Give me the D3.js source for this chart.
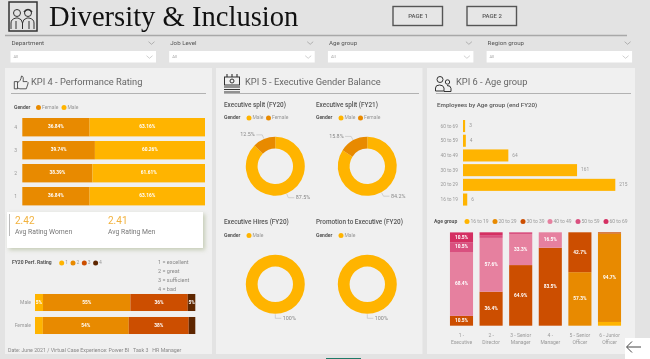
<!DOCTYPE html>
<html>
<head>
<meta charset="utf-8">
<script src="https://cdn.jsdelivr.net/npm/d3@7"></script>
<style>
  html, body { margin: 0; padding: 0; background: #e3e3e3; overflow: hidden; }
  svg { display: block; filter: blur(0.35px); }
  text { font-family: Roboto, "Noto Sans", sans-serif; white-space: pre; }
  .domain { display: none; }
</style>
</head>
<body>
<div id="chart"></div>
<script>
// ---- data ----
const filterNames = ['Department', 'Job Level', 'Age group', 'Region group'];
const pageNames = ['PAGE 1', 'PAGE 2'];

const ratingLevels = ['4', '3', '2', '1'];
const ratingFemale = [36.84, 39.74, 38.39, 36.84];
const ratingMale = [63.16, 60.26, 61.61, 63.16];

const avgValues = ['2.42', '2.41'];
const avgLabels = ['Avg Rating Women', 'Avg Rating Men'];

const perfKeys = ['1', '2', '3', '4'];
const perfGenders = ['Male', 'Female'];
const perfMale = [5, 54.5, 35.8, 4.7];
const perfFemale = [4.9, 53.6, 37.4, 4.1];
const perfMaleLabels = ['5%', '55%', '36%', '5%'];
const perfFemaleLabels = ['', '54%', '38%', ''];
const perfNotes = ['1 = excellent', '2 = great', '3 = sufficient', '4 = bad'];

const donutTitles = ['Executive split (FY20)', 'Executive split (FY21)', 'Executive Hires (FY20)', 'Promotion to Executive (FY20)'];
const donutMale = [87.5, 84.2, 100, 100];
const donutFemale = [12.5, 15.8, 0, 0];

const ageGroups = ['60 to 69', '50 to 59', '40 to 49', '30 to 39', '20 to 29', '16 to 19'];
const ageCounts = [3, 4, 64, 161, 215, 6];

const ageKeys = ['16 to 19', '20 to 29', '30 to 39', '40 to 49', '50 to 59', '60 to 69'];
const levels = ['1 - |Executive', '2 - |Director', '3 - Senior|Manager', '4 - |Manager', '5 - Senior|Officer', '6 - Junior|Officer'];
const age1619 = [0, 0, 0, 0, 0, 4];
const age2029 = [0, 0, 0, 0, 57.3, 94.7];
const age3039 = [10.5, 36.4, 64.9, 83.5, 42.7, 1.3];
const age4049 = [68.4, 57.6, 33.3, 16.5, 0, 0];
const age5059 = [10.5, 3, 1.8, 0, 0, 0];
const age6069 = [10.5, 3, 0, 0, 0, 0];

// ---- colours ----
const yellow = '#ffb400', orange = '#e88a00', rust = '#cc4e00', brown = '#5e2600';
const pink = '#e6809f', rose = '#d9507f', crimson = '#d42f62';
const inkLight = '#999';

const svg = d3.select('#chart').append('svg').attr('width', 650).attr('height', 359);

svg.append('defs').append('filter').attr('id', 'cardShadow')
  .attr('x', '-10%').attr('y', '-20%').attr('width', '125%').attr('height', '150%')
  .append('feDropShadow')
  .attr('dx', 2).attr('dy', 2).attr('stdDeviation', 2)
  .attr('flood-color', '#8f9f6f').attr('flood-opacity', 0.45);

svg.append('rect').attr('width', 650).attr('height', 359).attr('fill', '#e3e3e3');

function label(g, x, y, txt, size, fill, opts) {
  opts = opts || {};
  return g.append('text').attr('x', x).attr('y', y).text(txt)
    .attr('font-size', size).attr('fill', fill)
    .attr('font-weight', opts.weight || 400)
    .attr('text-anchor', opts.anchor || 'start')
    .attr('dominant-baseline', 'middle');
}

// small "Gender o Male o Female" style legends
function legend(g, x, y, title, entries) {
  label(g, x, y, title, 5, '#555', {weight: 700});
  entries.forEach(e => {
    g.append('circle').attr('cx', e.x).attr('cy', y).attr('r', 2.5).attr('fill', e.color);
    label(g, e.x + 3.5, y, e.name, 5, inkLight);
  });
}

// ---- header ----
const header = svg.append('g');
header.append('text').attr('x', 49).attr('y', 25.5).text('Diversity & Inclusion')
  .style('font-family', '"Liberation Serif", serif').attr('font-size', 28.6).attr('fill', '#111');
header.append('line').attr('x1', 5).attr('x2', 627).attr('y1', 35.5).attr('y2', 35.5)
  .attr('stroke', '#a8a8a8').attr('stroke-width', 1.5);

// people icon
const logo = header.append('g').attr('transform', 'translate(8,1)')
  .attr('fill', 'none').attr('stroke', '#333').attr('stroke-width', 1);
logo.append('rect').attr('x', 1).attr('y', 1).attr('width', 28).attr('height', 29).attr('stroke-width', 1.5);
logo.append('circle').attr('cx', 9).attr('cy', 12).attr('r', 3.5);
logo.append('circle').attr('cx', 20).attr('cy', 12).attr('r', 3.5);
logo.append('path').attr('d', 'M3 28v-6q0-4 5-5h2q4 1 4.5 5v6M14.5 22q.5-4 4.5-5h2q5 1 5 5v6M8 20v8M21 20v8');
logo.append('path').attr('d', 'M16 11q4-5 8 0').attr('stroke-width', 1.5);

pageNames.forEach((p, i) => {
  const x = 393 + i * 74;
  header.append('rect').attr('x', x).attr('y', 6.5).attr('width', 49.5).attr('height', 19)
    .attr('fill', '#e6e6e6').attr('stroke', '#555').attr('stroke-width', 1.4);
  label(header, x + 25, 16.5, p, 6, '#555', {anchor: 'middle', weight: 500});
});

// slicers
function chevron(g, x, y, col) {
  g.append('path').attr('d', `M${x - 3} ${y - 1.3}L${x} ${y + 1.3}L${x + 3} ${y - 1.3}`)
    .attr('fill', 'none').attr('stroke', col).attr('stroke-width', 0.7);
}
filterNames.forEach((f, i) => {
  const x = 10.5 + i * 158.7;
  label(header, x + 1, 43.5, f, 6.2, '#555');
  chevron(header, x + 141, 43, '#999');
  header.append('rect').attr('x', x).attr('y', 51).attr('width', 145.5).attr('height', 11.5).attr('fill', '#fff');
  label(header, x + 3, 57, 'All', 4.2, '#aaa');
  chevron(header, x + 139, 57, '#bbb');
});

// ---- panels ----
const panelX = [[5, 212], [216, 422.5], [427, 635]];
const titleRules = [[11, 206], [224, 419], [436, 631]];
const panelTitles = ['KPI 4 - Performance Rating', 'KPI 5 - Executive Gender Balance', 'KPI 6 - Age group'];
const titleX = [31, 245, 456];
panelX.forEach((p, i) => {
  svg.append('rect').attr('x', p[0]).attr('y', 68).attr('width', p[1] - p[0]).attr('height', 286).attr('fill', '#f0f0f0');
  svg.append('line').attr('x1', titleRules[i][0]).attr('x2', titleRules[i][1]).attr('y1', 93.5).attr('y2', 93.5)
    .attr('stroke', '#aaa').attr('stroke-width', 0.9);
  label(svg, titleX[i], 82.5, panelTitles[i], 9.3, '#666');
});

// panel icons
const iconStyle = g => g.attr('fill', 'none').attr('stroke', '#333').attr('stroke-width', 1);
svg.append('g').attr('transform', 'translate(13.5,76) scale(0.8)').call(iconStyle)
  .append('path').attr('d', 'M1 7h4v9H1zM5 8q4-1 5-8q3 0 2 7h5q2 1 1 3l-2 6H8l-3-1');
const execIcon = svg.append('g').attr('transform', 'translate(224,73)').call(iconStyle);
execIcon.append('rect').attr('x', 0.5).attr('y', 4).attr('width', 15).attr('height', 8);
execIcon.append('circle').attr('cx', 8).attr('cy', 8).attr('r', 2);
execIcon.append('path').attr('d', 'M0 14h16M0 16.5h16M0 19h16M3 1v3M8 1v3M13 1v3').attr('stroke-width', 1.1);
const ageIcon = svg.append('g').attr('transform', 'translate(435,76)').call(iconStyle);
ageIcon.append('circle').attr('cx', 5).attr('cy', 3.5).attr('r', 3);
ageIcon.append('circle').attr('cx', 12.5).attr('cy', 6).attr('r', 2.2);
ageIcon.append('path').attr('d', 'M0.5 15v-3q0-3 4-3t4.5 3v3zM9 15.5h7v-3q0-3-4-3');

// ---- KPI 4: gender share per rating ----
const kpi4 = svg.append('g');
legend(kpi4, 14, 107.5, 'Gender', [{x: 38.5, name: 'Female', color: orange}, {x: 64, name: 'Male', color: yellow}]);

const ratingX = d3.scaleLinear().domain([0, 100]).range([22.3, 205]);
const ratingY = d3.scaleBand().domain(ratingLevels).range([115.7, 207.7]).paddingInner(0.2).paddingOuter(0.1);

kpi4.append('g').attr('transform', 'translate(22,0)')
  .call(d3.axisLeft(ratingY).tickSize(0).tickPadding(5))
  .call(g => g.selectAll('text').attr('font-size', 5).attr('fill', inkLight).style('font-family', 'Roboto'));

ratingLevels.forEach((r, i) => {
  const y = ratingY(r), h = ratingY.bandwidth();
  kpi4.append('rect').attr('x', ratingX(0)).attr('y', y).attr('height', h)
    .attr('width', ratingX(ratingFemale[i]) - ratingX(0)).attr('fill', orange);
  kpi4.append('rect').attr('x', ratingX(ratingFemale[i])).attr('y', y).attr('height', h)
    .attr('width', ratingX(100) - ratingX(ratingFemale[i])).attr('fill', yellow);
  label(kpi4, (ratingX(0) + ratingX(ratingFemale[i])) / 2, y + h / 2, ratingFemale[i].toFixed(2) + '%', 4.8, '#fff', {anchor: 'middle', weight: 700});
  label(kpi4, (ratingX(ratingFemale[i]) + ratingX(100)) / 2, y + h / 2, ratingMale[i].toFixed(2) + '%', 4.8, '#fff', {anchor: 'middle', weight: 700});
});

// average rating card
const card = svg.append('g');
card.append('rect').attr('x', 7).attr('y', 212).attr('width', 196).attr('height', 36)
  .attr('fill', '#fff').attr('filter', 'url(#cardShadow)');
card.append('line').attr('x1', 9.5).attr('x2', 9.5).attr('y1', 214).attr('y2', 236).attr('stroke', '#aaa').attr('stroke-width', 0.8);
avgValues.forEach((v, i) => {
  const x = 15 + i * 93;
  label(card, x, 221.5, v, 10, '#f2b23e');
  label(card, x, 232.5, avgLabels[i], 6.8, '#777');
});

// FY20 perf rating split
const perf = svg.append('g');
const perfColors = d3.scaleOrdinal().domain(perfKeys).range([yellow, orange, rust, brown]);
legend(perf, 12, 263, 'FY20 Perf. Rating', perfKeys.map((k, i) => ({x: 61.7 + i * 11.3, name: k, color: perfColors(k)})));
perfNotes.forEach((n, i) => label(perf, 158, 262.5 + i * 9.1, n, 5.5, '#888'));

const perfRows = perfGenders.map((g, i) => {
  const src = i === 0 ? perfMale : perfFemale;
  const row = {gender: g};
  perfKeys.forEach((k, j) => { row[k] = src[j]; });
  return row;
});
const perfX = d3.scaleLinear().domain([0, 100]).range([35, 195.3]);
const perfY = d3.scaleBand().domain(perfGenders).range([291, 337]).paddingInner(0.26).paddingOuter(0.13);

perf.append('g').attr('transform', 'translate(35,0)')
  .call(d3.axisLeft(perfY).tickSize(0).tickPadding(4))
  .call(g => g.selectAll('text').attr('font-size', 5).attr('fill', inkLight).style('font-family', 'Roboto'));

d3.stack().keys(perfKeys)(perfRows).forEach((layer, k) => {
  layer.forEach((seg, i) => {
    const x0 = perfX(seg[0]), x1 = perfX(seg[1]);
    perf.append('rect').attr('x', x0).attr('y', perfY(perfGenders[i])).attr('width', x1 - x0)
      .attr('height', perfY.bandwidth()).attr('fill', perfColors(layer.key));
    const txt = (i === 0 ? perfMaleLabels : perfFemaleLabels)[k];
    if (txt) label(perf, (x0 + x1) / 2, perfY(perfGenders[i]) + perfY.bandwidth() / 2, txt, 4.8, '#fff', {anchor: 'middle', weight: 700});
  });
});

label(svg, 8, 350.5, 'Date: June 2021 / Virtual Case Experience: Power BI   Task 3   HR Manager', 5.25, '#888');

// ---- KPI 5: donuts ----
const kpi5 = svg.append('g');
const donutCx = [275.3, 367.3, 275.3, 367.3];
const donutCy = [166.3, 166.3, 284.3, 284.3];
const titleXs = [224, 316, 224, 316];
const titleYs = [105, 105, 222.5, 222.5];
const pie = d3.pie().sort(null).value(d => d.value);
const outerR = 29.5, innerR = 17.7;
const arc = d3.arc().innerRadius(innerR).outerRadius(outerR);

donutTitles.forEach((t, i) => {
  label(kpi5, titleXs[i], titleYs[i], t, 6.4, '#555', {weight: 500});
  const entries = [{x: titleXs[i] + 25, name: 'Male', color: yellow}];
  if (donutFemale[i] > 0) entries.push({x: titleXs[i] + 44.5, name: 'Female', color: orange});
  legend(kpi5, titleXs[i], titleYs[i] + 13, 'Gender', entries);

  const slices = [{name: 'Male', value: donutMale[i], color: yellow}];
  if (donutFemale[i] > 0) slices.push({name: 'Female', value: donutFemale[i], color: orange});

  const g = kpi5.append('g').attr('transform', `translate(${donutCx[i]},${donutCy[i]})`);
  pie(slices).forEach(s => {
    g.append('path').attr('d', arc(s)).attr('fill', s.data.color);
    // leader line + outside label
    const mid = (s.startAngle + s.endAngle) / 2;
    const sx = Math.sin(mid), cy = -Math.cos(mid);
    const side = sx < -0.001 ? -1 : 1;
    const x1 = sx * (outerR + 0.5), y1 = cy * (outerR + 0.5);
    const x2 = sx * (outerR + 4.5), y2 = cy * (outerR + 4.5);
    const x3 = x2 + side * 6;
    g.append('path').attr('d', `M${x1} ${y1}L${x2} ${y2}L${x3} ${y2}`)
      .attr('fill', 'none').attr('stroke', '#bbb').attr('stroke-width', 0.6);
    label(g, x3 + side * 1.5, y2, s.value + '%', 5.4, '#888', {anchor: side < 0 ? 'end' : 'start'});
  });
});

// ---- KPI 6: age counts ----
const kpi6 = svg.append('g');
label(kpi6, 437, 105, 'Employees by Age group (end FY20)', 6.2, '#555', {weight: 500});

const ageX = d3.scaleLinear().domain([0, 215]).range([463, 615.3]);
const ageY = d3.scaleBand().domain(ageGroups).range([118.7, 206.9]).paddingInner(0.18).paddingOuter(0.09);

kpi6.append('g').attr('transform', 'translate(463,0)')
  .call(d3.axisLeft(ageY).tickSize(0).tickPadding(5))
  .call(g => g.selectAll('text').attr('font-size', 4.8).attr('fill', inkLight).style('font-family', 'Roboto'));

kpi6.selectAll('rect.age').data(ageCounts).enter().append('rect')
  .attr('class', 'age')
  .attr('x', ageX(0))
  .attr('y', (d, i) => ageY(ageGroups[i]))
  .attr('width', d => ageX(d) - ageX(0))
  .attr('height', ageY.bandwidth())
  .attr('fill', yellow);
ageCounts.forEach((c, i) => {
  label(kpi6, ageX(c) + 4, ageY(ageGroups[i]) + ageY.bandwidth() / 2, c, 4.8, inkLight);
});

// age group per job level
const ageColors = d3.scaleOrdinal().domain(ageKeys).range([yellow, orange, rust, pink, rose, crimson]);
const legendXs = [467, 495, 523, 550, 578, 606];
legend(kpi6, 434, 221.5, 'Age group', ageKeys.map((k, i) => ({x: legendXs[i], name: k, color: ageColors(k)})));

const ageSources = [age1619, age2029, age3039, age4049, age5059, age6069];
const levelRows = levels.map((l, i) => {
  const row = {level: l};
  ageKeys.forEach((k, j) => { row[k] = ageSources[j][i]; });
  return row;
});
const levelX = d3.scaleBand().domain(levels).range([446.7, 624.3]).paddingInner(0.22).paddingOuter(0.11);
const levelY = d3.scaleLinear().domain([0, 100]).range([325.7, 232.3]);

d3.stack().keys(ageKeys)(levelRows).forEach(layer => {
  layer.forEach((seg, i) => {
    const v = seg[1] - seg[0];
    if (v <= 0) return;
    const x = levelX(levels[i]), y = levelY(seg[1]), h = levelY(seg[0]) - levelY(seg[1]);
    kpi6.append('rect').attr('x', x).attr('y', y).attr('width', levelX.bandwidth()).attr('height', h)
      .attr('fill', ageColors(layer.key));
    if (v >= 10) {
      label(kpi6, x + levelX.bandwidth() / 2, y + h / 2, v + '%', 4.8, '#fff', {anchor: 'middle', weight: 700});
    }
  });
});

kpi6.append('g').attr('transform', 'translate(0,328)')
  .call(d3.axisBottom(levelX).tickSize(0).tickPadding(3).tickFormat(''))
  .call(g => g.selectAll('.tick').each(function (d) {
    const t = d3.select(this).select('text').attr('dy', 0).attr('y', 0)
      .attr('font-size', 5).attr('fill', inkLight).style('font-family', 'Roboto');
    d.split('|').forEach((part, i) => {
      t.append('tspan').attr('x', 0).attr('y', 9 + i * 6.8).text(part.trim());
    });
  }));

// ---- page furniture at the bottom ----
svg.append('rect').attr('x', 326).attr('y', 358).attr('width', 35).attr('height', 1).attr('fill', '#1f7a68');
const back = svg.append('g');
back.append('rect').attr('x', 625).attr('y', 338).attr('width', 25).attr('height', 21).attr('fill', '#fff');
back.append('path').attr('d', 'M641 347H627M632 341.5L626.5 347L632 352.5')
  .attr('fill', 'none').attr('stroke', '#444').attr('stroke-width', 1);
</script>
</body>
</html>
